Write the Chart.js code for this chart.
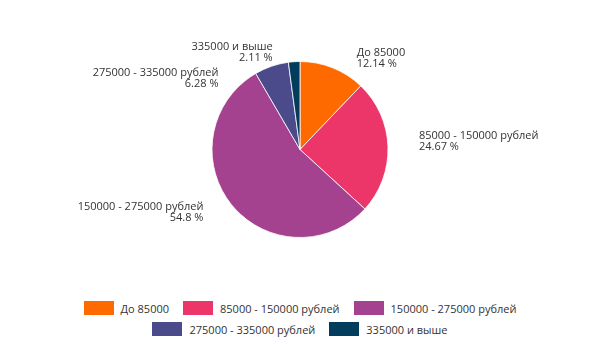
<!DOCTYPE html>
<html lang="ru">
<head>
<meta charset="UTF-8">
<title>Доход</title>
<script src="https://cdn.jsdelivr.net/npm/chart.js"></script>
<style>
    body { margin: 0; background: #fff; font-family: "Open Sans", sans-serif; }
    #wrap { position: relative; width: 600px; height: 340px; }
    #legend {
        position: absolute; left: 70px; top: 301px; width: 460px;
        display: flex; flex-wrap: wrap; justify-content: center;
        column-gap: 14px; row-gap: 7px;
        font-size: 11px; color: #333;
    }
    .item { display: flex; align-items: center; height: 14px; }
    .box { width: 30px; height: 14px; margin-right: 7px; }
</style>
</head>
<body>
<div id="wrap">
    <canvas id="pie" width="600" height="290"></canvas>
    <div id="legend"></div>
</div>
<script>
const categories = ['До 85000', '85000 - 150000 рублей', '150000 - 275000 рублей', '275000 - 335000 рублей', '335000 и выше'];
const shares = [12.14, 24.67, 54.8, 6.28, 2.11];
const colors = ['#ff6a00', '#ec3568', '#a4428f', '#4b4b8c', '#033d5e'];

// where each two-line label sits, relative to the rim point at the slice's middle
const labelOffsets = [[24, -11.5], [31, -8], [-28, 5.3], [-53, 9.4], [-21.5, -11.7]];

const sliceLabels = {
    id: 'sliceLabels',
    afterDatasetsDraw(chart) {
        const ctx = chart.ctx;
        const arcs = chart.getDatasetMeta(0).data;
        ctx.save();
        ctx.font = '11px "Open Sans"';
        ctx.fillStyle = '#333';
        ctx.textBaseline = 'alphabetic';
        arcs.forEach((arc, i) => {
            const p = arc.getProps(['x', 'y', 'startAngle', 'endAngle', 'outerRadius'], true);
            const mid = (p.startAngle + p.endAngle) / 2;
            const ex = p.x + Math.cos(mid) * p.outerRadius;
            const ey = p.y + Math.sin(mid) * p.outerRadius;
            const [dx, dy] = labelOffsets[i];
            ctx.textAlign = dx >= 0 ? 'left' : 'right';
            ctx.fillText(categories[i], ex + dx, ey + dy);
            ctx.fillText(shares[i] + ' %', ex + dx, ey + dy + 11);
        });
        ctx.restore();
    }
};

new Chart(document.getElementById('pie'), {
    type: 'pie',
    data: {
        labels: categories,
        datasets: [{
            data: shares,
            backgroundColor: colors,
            borderColor: '#fff',
            borderWidth: 0.8,
            radius: 88
        }]
    },
    options: {
        responsive: false,
        animation: false,
        layout: { padding: { top: 60, bottom: 51, left: 100, right: 100 } },
        plugins: {
            legend: { display: false },
            tooltip: { enabled: false }
        }
    },
    plugins: [sliceLabels]
});

// legend under the pie
const legend = document.getElementById('legend');
categories.forEach((name, i) => {
    const item = document.createElement('div');
    item.className = 'item';
    const box = document.createElement('span');
    box.className = 'box';
    box.style.background = colors[i];
    item.appendChild(box);
    item.appendChild(document.createTextNode(name));
    legend.appendChild(item);
});
</script>
</body>
</html>
